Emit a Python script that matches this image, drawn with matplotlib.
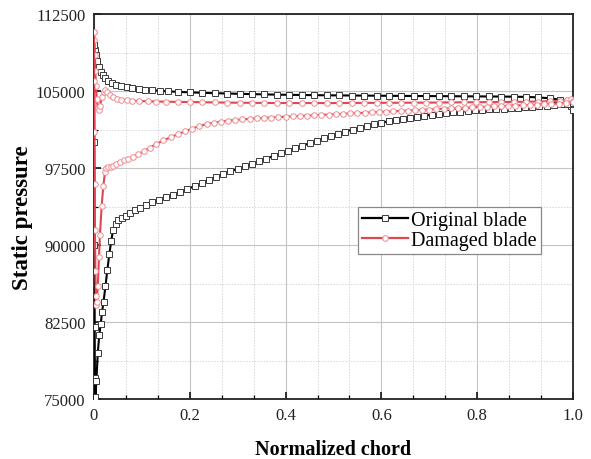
import matplotlib
matplotlib.use("Agg")
import matplotlib.pyplot as plt
from matplotlib.ticker import MultipleLocator, FixedLocator

plt.rcParams['font.family'] = ['Liberation Serif', 'DejaVu Serif']

# Original blade, pressure side (upper branch)
orig_up_x = [0.0, 0.002, 0.004, 0.007, 0.01, 0.014, 0.018, 0.023, 0.03, 0.038,
             0.047, 0.057, 0.068, 0.08, 0.093, 0.107, 0.122, 0.138, 0.155, 0.175,
             0.2, 0.226, 0.252, 0.278, 0.304, 0.33, 0.356, 0.382, 0.408, 0.434,
             0.46, 0.486, 0.512, 0.538, 0.564, 0.59, 0.616, 0.642, 0.668, 0.694,
             0.72, 0.746, 0.772, 0.798, 0.824, 0.85, 0.876, 0.902, 0.928, 0.952,
             0.972, 0.987, 0.996, 1.0]
orig_up_p = [109500, 109000, 108500, 107900, 107400, 106900, 106550, 106250, 105950, 105750,
             105600, 105480, 105380, 105300, 105220, 105150, 105090, 105030, 104980, 104930,
             104880, 104840, 104800, 104770, 104740, 104710, 104685, 104660, 104640, 104625,
             104610, 104595, 104585, 104575, 104565, 104555, 104545, 104535, 104527, 104520,
             104512, 104505, 104498, 104490, 104482, 104472, 104460, 104440, 104390, 104300,
             104180, 103950, 103600, 103200]

# Original blade, suction side (lower branch)
orig_lo_x = [0.0, 0.0005, 0.001, 0.0015, 0.002, 0.003, 0.005, 0.008, 0.011, 0.014,
             0.017, 0.020, 0.024, 0.028, 0.032, 0.036, 0.040, 0.045, 0.051,
             0.058, 0.066, 0.075, 0.085, 0.096, 0.108, 0.121, 0.135, 0.15, 0.165,
             0.18, 0.195, 0.21, 0.225, 0.24, 0.255, 0.27, 0.285, 0.30, 0.315,
             0.33, 0.345, 0.36, 0.375, 0.39, 0.405, 0.42, 0.435, 0.45, 0.465,
             0.48, 0.495, 0.51, 0.525, 0.54, 0.555, 0.57, 0.585, 0.60, 0.615,
             0.63, 0.645, 0.66, 0.675, 0.69, 0.705, 0.72, 0.735, 0.75, 0.765,
             0.78, 0.795, 0.81, 0.825, 0.84, 0.855, 0.87, 0.885, 0.90, 0.915,
             0.93, 0.945, 0.96, 0.975, 0.988, 1.0]
orig_lo_p = [109500, 100000, 90000, 82000, 77000, 75200, 76800, 79500, 81200, 82300,
             83500, 84500, 86000, 87600, 89100, 90400, 91500, 92050, 92400,
             92650, 92870, 93150, 93400, 93650, 93900, 94150, 94400, 94680, 94900,
             95130, 95450, 95750, 96050, 96350, 96650, 96920, 97180, 97430, 97680,
             97930, 98180, 98430, 98680, 98930, 99180, 99430, 99680, 99920, 100170,
             100420, 100640, 100850, 101060, 101260, 101440, 101610, 101770, 101920, 102060,
             102190, 102310, 102420, 102520, 102610, 102700, 102780, 102860, 102930, 103000,
             103060, 103120, 103170, 103220, 103260, 103300, 103340, 103380, 103420, 103460,
             103510, 103570, 103630, 103700, 103780, 103850]

# Damaged blade, pressure side (upper branch)
dmg_up_x = [0.0, 0.001, 0.002, 0.003, 0.004, 0.006, 0.008, 0.010, 0.013, 0.016,
            0.020, 0.024, 0.028, 0.033, 0.040, 0.048, 0.057, 0.068, 0.080, 0.095,
            0.112, 0.130, 0.150, 0.175,
            0.2, 0.226, 0.252, 0.278, 0.304, 0.33, 0.356, 0.382, 0.408, 0.434,
            0.46, 0.486, 0.512, 0.538, 0.564, 0.59, 0.616, 0.642, 0.668, 0.694,
            0.72, 0.746, 0.772, 0.798, 0.824, 0.85, 0.876, 0.902, 0.928, 0.952,
            0.972, 0.987, 0.996, 1.0]
dmg_up_p = [110800, 110000, 108500, 107000, 105500, 104200, 103400, 103200, 103600, 104400,
            104900, 105100, 104950, 104650, 104400, 104250, 104180, 104120, 104080, 104040,
            104010, 103990, 103970, 103955,
            103940, 103920, 103900, 103885, 103870, 103860, 103850, 103845, 103840, 103840,
            103840, 103840, 103845, 103850, 103855, 103860, 103865, 103870, 103875, 103880,
            103890, 103900, 103910, 103920, 103930, 103940, 103955, 103970, 103990, 104030,
            104080, 104150, 104200, 104000]

# Damaged blade, suction side (lower branch)
dmg_lo_x = [0.0, 0.0005, 0.001, 0.0015, 0.002, 0.003, 0.004, 0.005, 0.006, 0.008,
            0.0105, 0.0125, 0.016, 0.0195, 0.023, 0.026, 0.030, 0.035, 0.040, 0.047,
            0.054, 0.062, 0.071, 0.081, 0.092, 0.104, 0.117, 0.13, 0.145, 0.16,
            0.175, 0.19, 0.205, 0.22, 0.235, 0.25, 0.265, 0.28, 0.295, 0.31,
            0.325, 0.34, 0.355, 0.37, 0.385, 0.40, 0.415, 0.43, 0.445, 0.46,
            0.475, 0.49, 0.505, 0.52, 0.535, 0.55, 0.565, 0.58, 0.595, 0.61,
            0.625, 0.64, 0.655, 0.67, 0.685, 0.70, 0.715, 0.73, 0.745, 0.76,
            0.775, 0.79, 0.805, 0.82, 0.835, 0.85, 0.865, 0.88, 0.895, 0.91,
            0.925, 0.94, 0.955, 0.97, 0.985, 1.0]
dmg_lo_p = [110800, 106000, 101000, 96000, 91500, 87500, 85000, 84200, 84500, 86000,
            88800, 91000, 93800, 95750, 97100, 97500, 97600, 97650, 97700, 97900,
            98090, 98250, 98400, 98600, 98850, 99150, 99500, 99850, 100200, 100500,
            100800, 101080, 101350, 101600, 101780, 101920, 102030, 102120, 102190, 102250,
            102300, 102350, 102390, 102430, 102470, 102510, 102545, 102580, 102615, 102650,
            102685, 102720, 102755, 102790, 102825, 102860, 102895, 102930, 102965, 103000,
            103035, 103070, 103105, 103140, 103175, 103210, 103245, 103280, 103315, 103350,
            103385, 103420, 103450, 103480, 103510, 103540, 103570, 103600, 103630, 103660,
            103690, 103720, 103750, 103790, 103840, 103900]

series_labels = ["Original blade", "Damaged blade"]
x_ticks = [0, 0.2, 0.4, 0.6, 0.8, 1.0]
x_tick_labels = ["0", "0.2", "0.4", "0.6", "0.8", "1.0"]
y_ticks = [75000, 82500, 90000, 97500, 105000, 112500]

fig = plt.figure(figsize=(5.91, 4.60), dpi=100)
ax = fig.add_axes([0.159, 0.1304, 0.8105, 0.8366])

black_style = dict(color='black', lw=1.5, marker='s', ms=3.7, mfc='white',
                   mec='#3a3a3a', mew=0.7)
red_style = dict(color='#e0484f', lw=1.5, marker='o', ms=4.0, mfc='white',
                 mec='#f08a90', mew=0.7)

ax.plot(orig_up_x, orig_up_p, label=series_labels[0], zorder=3, **black_style)
ax.plot(orig_lo_x, orig_lo_p, zorder=3, **black_style)
ax.plot(dmg_up_x, dmg_up_p, label=series_labels[1], zorder=4, **red_style)
ax.plot(dmg_lo_x, dmg_lo_p, zorder=4, **red_style)

ax.set_xlim(0, 1.0)
ax.set_ylim(75000, 112500)
ax.xaxis.set_major_locator(FixedLocator(x_ticks))
ax.set_xticklabels(x_tick_labels)
ax.xaxis.set_minor_locator(MultipleLocator(0.2 / 3))
ax.yaxis.set_major_locator(FixedLocator(y_ticks))
ax.yaxis.set_minor_locator(MultipleLocator(3750))

ax.grid(True, which='major', color='#c4c4c4', lw=0.8, zorder=0)
ax.grid(True, which='minor', color='#d6d6d6', lw=0.7, ls=(0, (1.5, 1.5)), zorder=0)
ax.set_axisbelow(True)

ax.tick_params(axis='both', which='major', direction='in', length=5, width=1.1,
               labelsize=12, labelcolor='#222222', top=False, right=False, pad=6)
ax.tick_params(axis='both', which='minor', direction='in', length=3, width=0.9,
               top=False, right=False)
for s in ax.spines.values():
    s.set_linewidth(1.3)
    s.set_color('#222222')

ax.set_xlabel("Normalized chord", fontsize=14.5, fontweight='bold')
ax.set_ylabel("Static pressure", fontsize=16.5, fontweight='bold')
ax.xaxis.set_label_coords(0.5, -0.104)
ax.yaxis.set_label_coords(-0.128, 0.473)

leg = ax.legend(loc='upper left', bbox_to_anchor=(0.551, 0.499), fontsize=14.5,
                frameon=True, fancybox=False, edgecolor='#888888', framealpha=1,
                handlelength=2.3, handletextpad=0.15, borderpad=0.2,
                labelspacing=0.05, borderaxespad=0)
leg.get_frame().set_linewidth(0.9)
for h in leg.get_lines():
    h.set_linewidth(1.6)

fig.savefig("out.png", dpi=100)
